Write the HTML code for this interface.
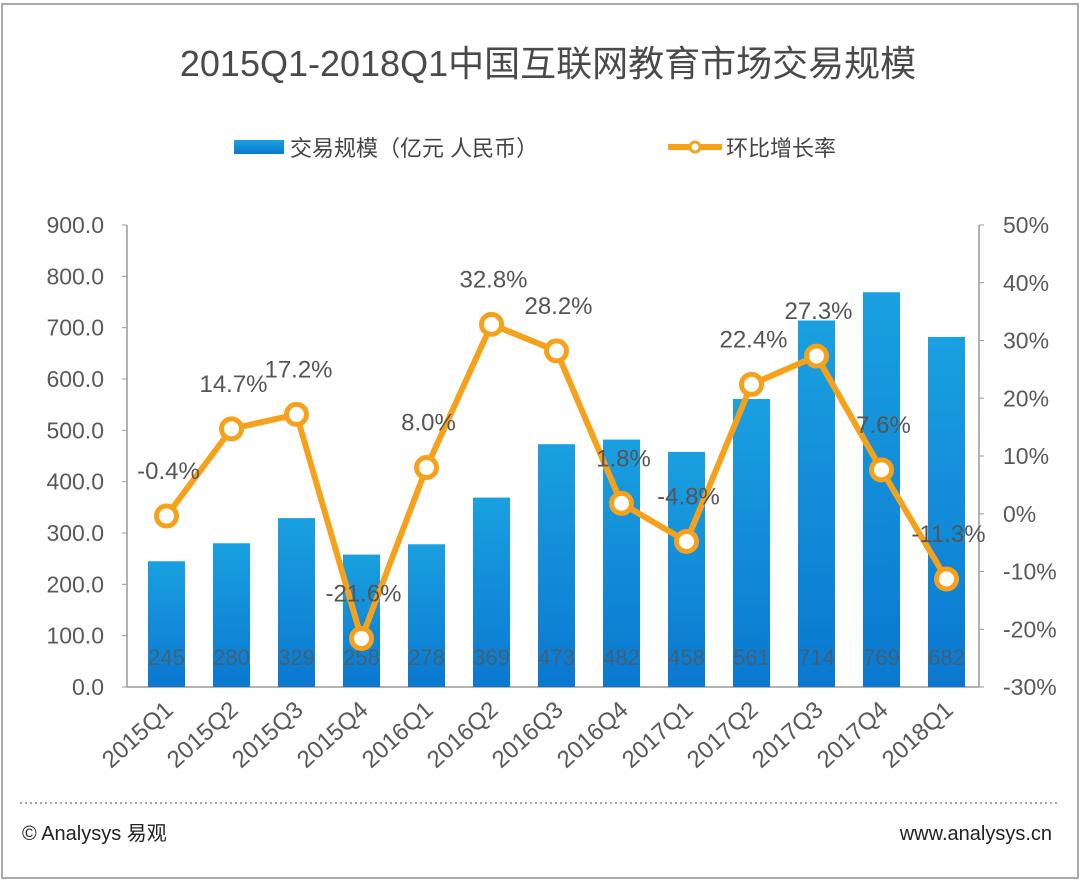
<!DOCTYPE html>
<html><head><meta charset="utf-8"><style>
body{margin:0;background:#fff;}
svg text{font-family:"Liberation Sans","Noto Sans CJK SC",sans-serif;}
</style></head><body>
<svg width="1080" height="882" viewBox="0 0 1080 882">
<defs><linearGradient id="bg" x1="0" y1="0" x2="0" y2="1"><stop offset="0" stop-color="#1aa0e0"/><stop offset="1" stop-color="#0a78d0"/></linearGradient></defs>
<rect x="2" y="4" width="1076" height="874" fill="#fff" stroke="#aaa" stroke-width="2"/>
<text x="548" y="76" text-anchor="middle" font-size="36" fill="#4a4a4a">2015Q1-2018Q1中国互联网教育市场交易规模</text>
<g>
<rect x="234" y="140" width="50" height="14" fill="url(#bg)"/>
<text x="290" y="156" font-size="22" fill="#444">交易规模（亿元 人民币）</text>
<line x1="668" y1="147" x2="722" y2="147" stroke="#f7a11a" stroke-width="6"/>
<circle cx="695" cy="147" r="5" fill="#fff" stroke="#f7a11a" stroke-width="3"/>
<text x="726" y="156" font-size="22" fill="#444">环比增长率</text>
</g>
<g id="axes"></g>
<g id="bars"></g>
<g id="line"></g>
<line x1="20" y1="803" x2="1060" y2="803" stroke="#888" stroke-width="1.5" stroke-dasharray="2,3"/>
<text x="22" y="840" font-size="20" fill="#222">© Analysys 易观</text>
<text x="1052" y="840" font-size="20" fill="#222" text-anchor="end">www.analysys.cn</text>
</svg>
<script>
const categories=["2015Q1","2015Q2","2015Q3","2015Q4","2016Q1","2016Q2","2016Q3","2016Q4","2017Q1","2017Q2","2017Q3","2017Q4","2018Q1"];
const volumes=[245,280,329,258,278,369,473,482,458,561,714,769,682];
const growth=[-0.4,14.7,17.2,-21.6,8.0,32.8,28.2,1.8,-4.8,22.4,27.3,7.6,-11.3];
const leftTicks=[0,100,200,300,400,500,600,700,800,900];
const rightTicks=[-30,-20,-10,0,10,20,30,40,50];
const NS="http://www.w3.org/2000/svg";
const X0=127,X1=979,Y0=687,Y1=225;
const xc=i=>166.5+65*i;
const yL=v=>Y0-(v/900)*(Y0-Y1);
const yR=v=>Y0-((v+30)/80)*(Y0-Y1);
function mk(tag,attrs,parent,txt){const e=document.createElementNS(NS,tag);for(const k in attrs)e.setAttribute(k,attrs[k]);if(txt!=null)e.textContent=txt;parent.appendChild(e);return e;}
const ax=document.getElementById('axes');
let e;
e=mk('line',{x1:X0,y1:Y1,x2:X0,y2:Y0,stroke:'#999','stroke-width':1.5},ax);


e=mk('line',{x1:X1,y1:Y1,x2:X1,y2:Y0,stroke:'#999','stroke-width':1.5},ax);


e=mk('line',{x1:X0,y1:Y0,x2:X1,y2:Y0,stroke:'#999','stroke-width':1.5},ax);


leftTicks.forEach(t=>{const y=yL(t);mk('line',{x1:X0-5,y1:y,x2:X0,y2:y,stroke:'#999'},ax);
e=mk('text',{x:104,y:y+8,'text-anchor':'end','font-size':23,fill:'#595959'},ax,t.toFixed(1));

});
rightTicks.forEach(t=>{const y=yR(t);mk('line',{x1:X1,y1:y,x2:X1+5,y2:y,stroke:'#999'},ax);
e=mk('text',{x:1003,y:y+8,'font-size':23,fill:'#595959'},ax,t+'%');

});
categories.forEach((c,i)=>{const x=xc(i)+8,y=712;
e=mk('text',{x:x,y:y,'text-anchor':'end','font-size':24,fill:'#595959',transform:`rotate(-42 ${x} ${y})`},ax,c);

});
const bg=document.getElementById('bars');
volumes.forEach((v,i)=>{
e=mk('rect',{x:xc(i)-18.5,y:yL(v),width:37,height:Y0-yL(v),fill:'url(#bg)'},bg);


e=mk('text',{x:xc(i),y:665,'text-anchor':'middle','font-size':22,fill:'#555','fill-opacity':0.75},bg,v);

});
const lg=document.getElementById('line');
e=mk('polyline',{points:growth.map((g,i)=>xc(i)+','+yR(g)).join(' '),fill:'none',stroke:'#f7a11a','stroke-width':6,'stroke-linejoin':'round'},lg);


growth.forEach((g,i)=>{
e=mk('circle',{cx:xc(i),cy:yR(g),r:10,fill:'#fff',stroke:'#f7a11a','stroke-width':5},lg);


e=mk('text',{x:xc(i)+2,y:yR(g)-37,'text-anchor':'middle','font-size':24,fill:'#555'},lg,g.toFixed(1)+'%');

});
</script>
</body></html>
